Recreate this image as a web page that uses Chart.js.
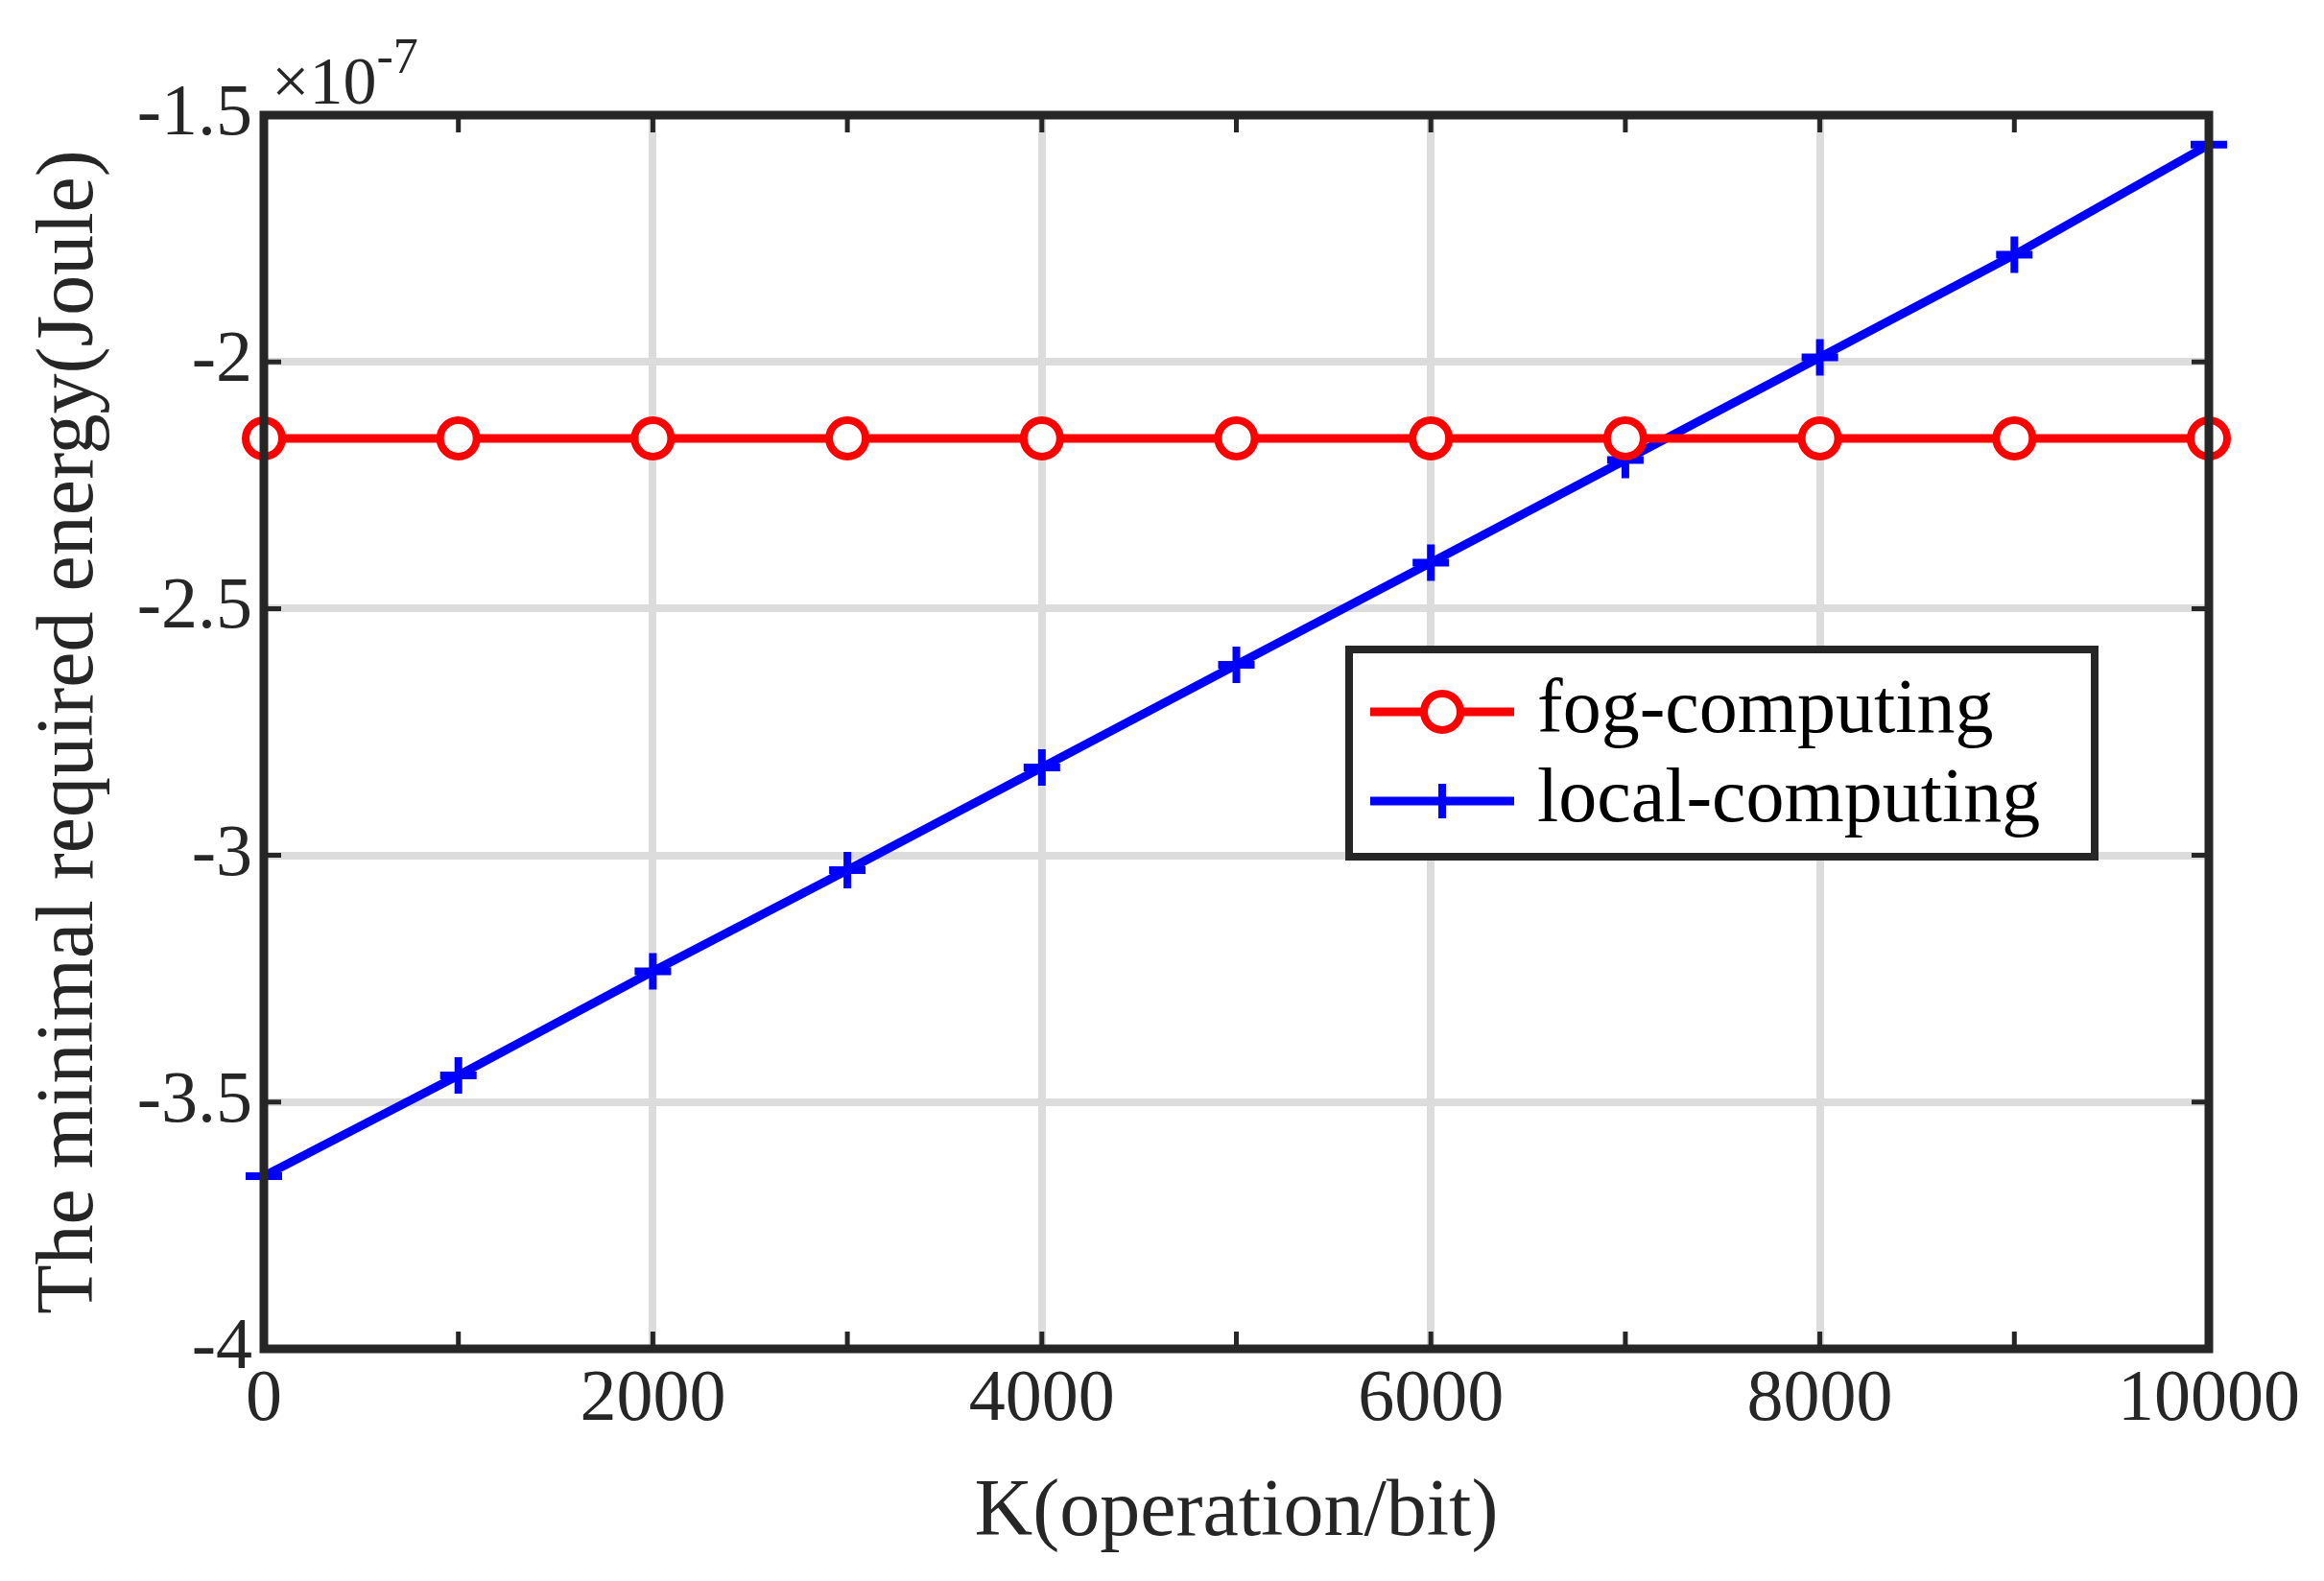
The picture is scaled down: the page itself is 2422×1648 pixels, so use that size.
<!DOCTYPE html>
<html>
<head>
<meta charset="utf-8">
<style>
  html, body { margin: 0; padding: 0; background: #fff; }
  #wrap { width: 2422px; height: 1648px; }
</style>
<script src="https://cdn.jsdelivr.net/npm/chart.js@4/dist/chart.umd.min.js"></script>
</head>
<body>
<div id="wrap"><canvas id="chart" width="2422" height="1648"></canvas></div>
<script>
// data (values in units of 1e-7 Joule)
const kValues = [0, 1000, 2000, 3000, 4000, 5000, 6000, 7000, 8000, 9000, 10000];
const fogEnergy = [-2.155, -2.155, -2.155, -2.155, -2.155, -2.155, -2.155, -2.155, -2.155, -2.155, -2.155];
const localEnergy = [-3.65, -3.446, -3.235, -3.03, -2.822, -2.614, -2.407, -2.199, -1.991, -1.783, -1.56];
const yTicks = [-4, -3.5, -3, -2.5, -2, -1.5];

const serif = '"Liberation Serif", "DejaVu Serif", serif';

// frame, exponent label and legend
const extras = {
    id: 'extras',
    afterDraw(chart) {
        const ctx = chart.ctx;
        const a = chart.chartArea;
        ctx.save();
        ctx.strokeStyle = '#262626';
        ctx.lineWidth = 9;
        ctx.strokeRect(a.left, a.top, a.right - a.left, a.bottom - a.top);

        // tick marks (inside, every 1000 on x)
        ctx.lineWidth = 5;
        ctx.beginPath();
        kValues.forEach(k => {
            const x = chart.scales.x.getPixelForValue(k);
            ctx.moveTo(x, a.bottom); ctx.lineTo(x, a.bottom - 18);
            ctx.moveTo(x, a.top); ctx.lineTo(x, a.top + 18);
        });
        yTicks.forEach(v => {
            const y = chart.scales.y.getPixelForValue(v);
            ctx.moveTo(a.left, y); ctx.lineTo(a.left + 18, y);
            ctx.moveTo(a.right, y); ctx.lineTo(a.right - 18, y);
        });
        ctx.stroke();

        // exponent
        ctx.fillStyle = '#262626';
        ctx.textBaseline = 'alphabetic';
        ctx.font = '70px ' + serif;
        ctx.fillText('\u00d710', a.left + 8, a.top - 12);
        const w = ctx.measureText('\u00d710').width;
        ctx.font = '52px ' + serif;
        ctx.fillText('-7', a.left + 8 + w, a.top - 44);

        // legend
        const lx = 1406, ly = 677, lw = 777, lh = 216;
        ctx.fillStyle = '#fff';
        ctx.fillRect(lx, ly, lw, lh);
        ctx.strokeStyle = '#262626';
        ctx.lineWidth = 8;
        ctx.strokeRect(lx, ly, lw, lh);
        const rows = [
            { label: 'fog-computing', color: '#ff0000', y: ly + 65, mark: 'circle' },
            { label: 'local-computing', color: '#0000ff', y: ly + 158, mark: 'cross' }
        ];
        rows.forEach(r => {
            ctx.strokeStyle = r.color;
            ctx.lineWidth = 9;
            ctx.beginPath();
            ctx.moveTo(lx + 22, r.y);
            ctx.lineTo(lx + 172, r.y);
            ctx.stroke();
            const cx = lx + 97;
            ctx.lineWidth = 8;
            ctx.beginPath();
            if (r.mark === 'circle') {
                ctx.fillStyle = '#fff';
                ctx.arc(cx, r.y, 19, 0, Math.PI * 2);
                ctx.fill();
            } else {
                ctx.moveTo(cx - 18, r.y); ctx.lineTo(cx + 18, r.y);
                ctx.moveTo(cx, r.y - 18); ctx.lineTo(cx, r.y + 18);
            }
            ctx.stroke();
            ctx.fillStyle = '#000';
            ctx.font = '80px ' + serif;
            ctx.textBaseline = 'middle';
            ctx.fillText(r.label, lx + 196, r.y);
        });
        ctx.restore();
    }
};

new Chart(document.getElementById('chart'), {
    type: 'line',
    data: {
        datasets: [{
            label: 'fog-computing',
            data: kValues.map((k, i) => ({ x: k, y: fogEnergy[i] })),
            borderColor: '#ff0000',
            borderWidth: 9,
            pointStyle: 'circle',
            pointRadius: 19,
            pointBorderWidth: 8,
            pointBorderColor: '#ff0000',
            pointBackgroundColor: '#ffffff',
            clip: false
        }, {
            label: 'local-computing',
            data: kValues.map((k, i) => ({ x: k, y: localEnergy[i] })),
            borderColor: '#0000ff',
            borderWidth: 9,
            pointStyle: 'cross',
            pointRadius: 19,
            pointBorderWidth: 8,
            pointBorderColor: '#0000ff',
            clip: false
        }]
    },
    options: {
        responsive: false,
        animation: false,
        devicePixelRatio: 1,
        layout: { padding: { top: 120, right: 120, bottom: 20, left: 20 } },
        plugins: { legend: { display: false }, tooltip: { enabled: false } },
        scales: {
            x: {
                type: 'linear',
                min: 0, max: 10000,
                ticks: {
                    stepSize: 2000,
                    color: '#262626',
                    font: { family: serif, size: 76 },
                    padding: 8,
                    maxRotation: 0,
                    callback: v => String(v)
                },
                grid: { color: '#dcdcdc', lineWidth: 8, drawTicks: false },
                border: { display: false },
                title: {
                    display: true,
                    text: 'K(operation/bit)',
                    color: '#262626',
                    font: { family: serif, size: 84 },
                    padding: { top: 0, bottom: 0 }
                },
                afterFit(s) { s.height = 222; }
            },
            y: {
                min: -4, max: -1.5,
                afterBuildTicks(s) { s.ticks = yTicks.map(v => ({ value: v })); },
                ticks: {
                    color: '#262626',
                    font: { family: serif, size: 76 },
                    padding: 12,
                    callback: v => String(v)
                },
                grid: { color: '#dcdcdc', lineWidth: 8, drawTicks: false },
                border: { display: false },
                title: {
                    display: true,
                    text: 'The minimal required energy(Joule)',
                    color: '#262626',
                    font: { family: serif, size: 84 },
                    padding: { bottom: 0 }
                },
                afterFit(s) { s.width = 255; }
            }
        }
    },
    plugins: [extras]
});
</script>
</body>
</html>
